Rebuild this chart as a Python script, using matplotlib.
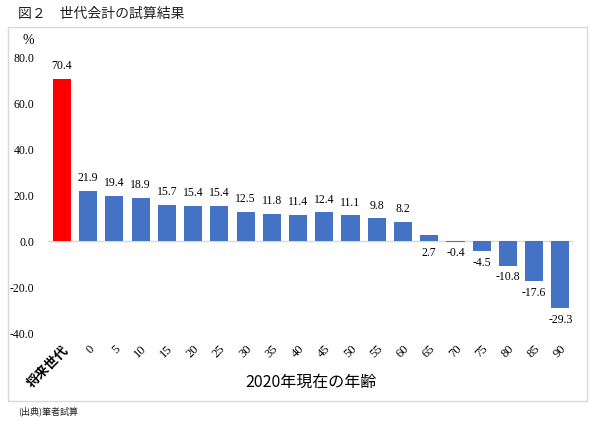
import matplotlib
matplotlib.use("Agg")
import matplotlib.pyplot as plt
from matplotlib.patches import Rectangle

categories = ["将来世代", "0", "5", "10", "15", "20", "25", "30", "35", "40", "45",
              "50", "55", "60", "65", "70", "75", "80", "85", "90"]
values = [70.4, 21.9, 19.4, 18.9, 15.7, 15.4, 15.4, 12.5, 11.8, 11.4, 12.4,
          11.1, 9.8, 8.2, 2.7, -0.4, -4.5, -10.8, -17.6, -29.3]
yticks = [-40.0, -20.0, 0.0, 20.0, 40.0, 60.0, 80.0]

SERIF = ["Liberation Serif", "Noto Sans CJK JP"]
CJK = ["Noto Sans CJK JP", "DejaVu Sans"]

fig = plt.figure(figsize=(6.0, 4.24), dpi=100)
fig.patch.set_facecolor("white")
# outer frame
fig.patches.append(Rectangle((8/600, 1-401/424), (587-8)/600, (401-27)/424,
                             transform=fig.transFigure, fill=False,
                             edgecolor="#D9D9D9", linewidth=1.0))

ax = fig.add_axes([48/600, 1-333/424, 525/600, 276/424])
x = list(range(len(values)))
colors = ["#FF0000"] + ["#4472C4"] * (len(values) - 1)
ax.bar(x, values, width=0.69, color=colors, zorder=2)
ax.set_xlim(-0.53, len(values) - 0.52)
ax.set_ylim(-40, 80)
ax.axhline(0, color="#D9D9D9", linewidth=1.0, zorder=1)
for s in ax.spines.values():
    s.set_visible(False)
ax.set_yticks(yticks)
ax.set_yticklabels([f"{t:.1f}" for t in yticks], family=SERIF, fontsize=8.5)
ax.tick_params(axis="y", length=0, pad=10)
ax.tick_params(axis="x", length=0, pad=7)
ax.set_xticks(x)
labels = ax.set_xticklabels(categories, rotation=45, ha="right", va="top",
                            rotation_mode="anchor", family=SERIF, fontsize=9)
labels[0].set_family(CJK)
labels[0].set_fontsize(9.5)
labels[0].set_fontweight("bold")

for xi, v in zip(x, values):
    if v >= 5:
        ax.annotate(f"{v:.1f}", (xi, v), xytext=(0, 5), textcoords="offset points",
                    ha="center", va="bottom", family=SERIF, fontsize=8.5)
    else:
        ax.annotate(f"{v:.1f}", (xi, min(v, 0)), xytext=(0, -4), textcoords="offset points",
                    ha="center", va="top", family=SERIF, fontsize=8.5)

ax.set_xlabel("2020年現在の年齢", family=CJK, fontsize=11.5, va="center")
ax.xaxis.set_label_coords(0.5, (333 - 382) / 276)
fig.text(28/600, 1-40/424, "%", family=SERIF, fontsize=10, ha="center", va="center")
fig.text(18/600, 1-14/424, "図２　世代会計の試算結果", family=CJK, fontsize=10,
         ha="left", va="center", color="#222222")
fig.text(18/600, 1-411/424, "(出典)筆者試算", family=CJK, fontsize=6.5,
         ha="left", va="center", color="#222222")

fig.savefig("out.png", dpi=100)
